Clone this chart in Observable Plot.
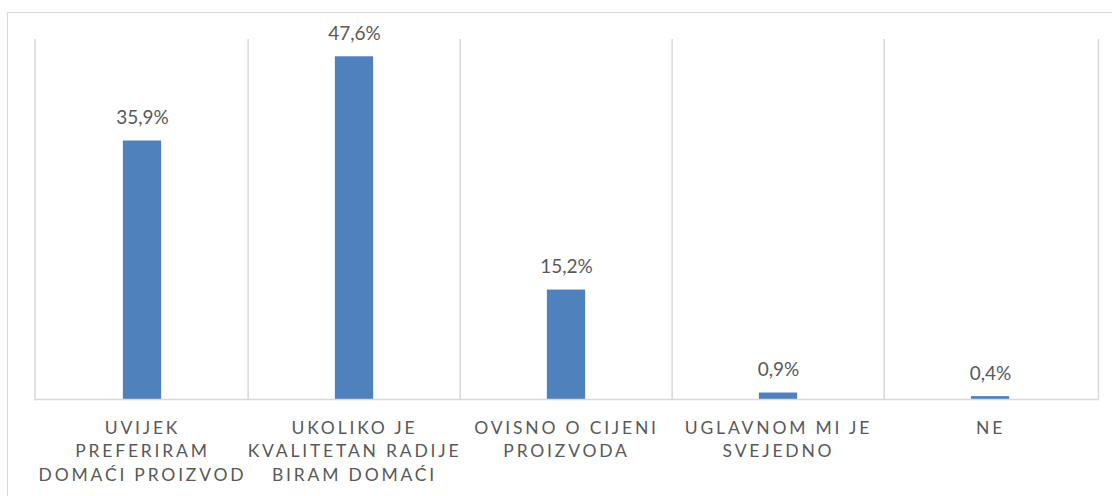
<!DOCTYPE html>
<html>
<head>
<meta charset="utf-8">
<script src="https://cdn.jsdelivr.net/npm/d3@7"></script>
<script src="https://cdn.jsdelivr.net/npm/@observablehq/plot@0.6"></script>
<style>
  html, body { margin: 0; padding: 0; background: #fff; }
  #wrap { position: relative; width: 1112px; height: 496px; overflow: hidden; }
  #frame { position: absolute; left: 7px; top: 12px; width: 1200px; height: 600px;
           border-left: 1.5px solid #d9d9d9; border-top: 1.5px solid #d9d9d9; box-sizing: border-box; }
  #chart { position: absolute; left: 0; top: 0; }
  g[aria-label="x-axis tick label"] text { letter-spacing: 2.8px; }
</style>
</head>
<body>
<div id="wrap"><div id="frame"></div><div id="chart"></div></div>
<script>
const categories = [
  "UVIJEK\nPREFERIRAM\nDOMAĆI PROIZVOD",
  "UKOLIKO JE\nKVALITETAN RADIJE\nBIRAM DOMAĆI",
  "OVISNO O CIJENI\nPROIZVODA",
  "UGLAVNOM MI JE\nSVEJEDNO",
  "NE"
];
const values = [35.9, 47.6, 15.2, 0.9, 0.4];
const valueLabels = ["35,9%", "47,6%", "15,2%", "0,9%", "0,4%"];

const data = categories.map((c, i) => ({category: c, value: values[i], label: valueLabels[i]}));

const width = 1112, height = 496;
const marginLeft = 34.5, marginRight = 14, marginTop = 39, marginBottom = 97;
const step = (width - marginLeft - marginRight) / categories.length;
const barWidth = 39;
const inset = (step - barWidth) / 2;
const grid = "#d9d9d9";
const textColor = "#595959";

const chart = Plot.plot({
  width, height, marginLeft, marginRight, marginTop, marginBottom,
  style: {fontFamily: "Lato, 'Open Sans', sans-serif", fontSize: "18px", color: textColor, background: "transparent"},
  x: {domain: categories, padding: 0, label: null},
  y: {domain: [0, 50], axis: null},
  marks: [
    Plot.frame({anchor: "left", stroke: grid, strokeWidth: 1.5, strokeOpacity: 1}),
    Plot.frame({anchor: "right", stroke: grid, strokeWidth: 1.5, strokeOpacity: 1}),
    Plot.ruleX(categories.slice(1), {x: d => d, dx: -step / 2, stroke: grid, strokeWidth: 1.5}),
    Plot.barY(data, {x: "category", y: "value", fill: "#4f81bd", insetLeft: inset, insetRight: inset}),
    Plot.ruleY([0], {stroke: grid, strokeWidth: 1.5}),
    Plot.text(data, {x: "category", y: "value", text: "label", dy: -23, lineAnchor: "middle",
      fill: textColor, fontSize: 19}),
    Plot.axisX({tickSize: 0, tickPadding: 17, lineHeight: 1.37, fontSize: 17.5, fill: textColor, label: null})
  ]
});
document.getElementById("chart").appendChild(chart);
</script>
</body>
</html>
